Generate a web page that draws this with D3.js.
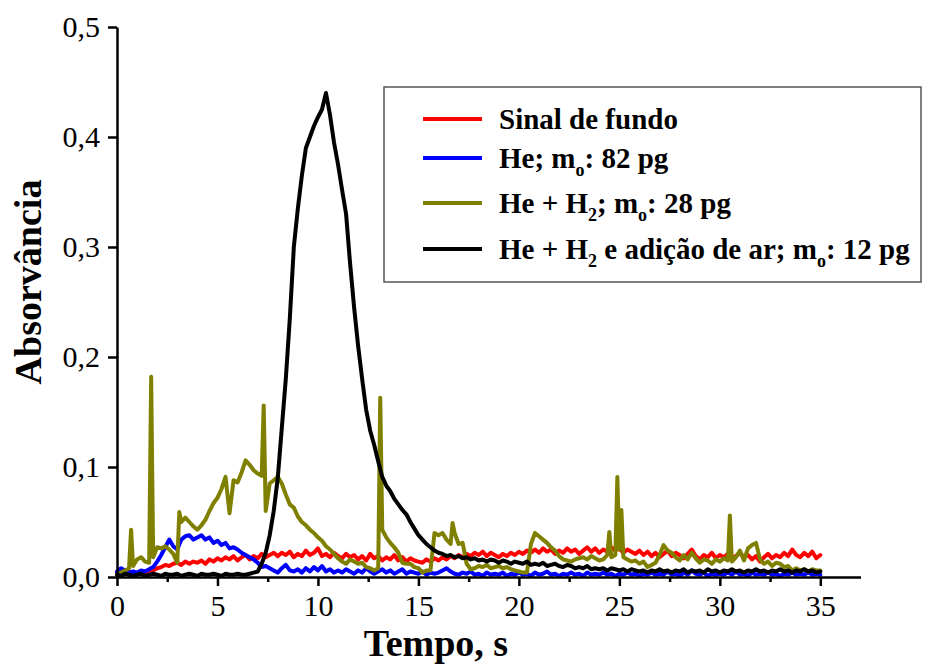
<!DOCTYPE html>
<html>
<head>
<meta charset="utf-8">
<script src="https://cdn.jsdelivr.net/npm/d3@7/dist/d3.min.js"></script>
<style>
  html, body { margin: 0; padding: 0; background: #fff; }
  svg { display: block; }
</style>
</head>
<body>
<div id="chart"></div>
<script>
// ---- DATA ----
// Sampling grid: 0 to 35 s, every 0.2 s
const timeStep = 0.2;
const xTicksMajor = [0, 5, 10, 15, 20, 25, 30, 35];
const xTicksMinor = [2.5, 7.5, 12.5, 17.5, 22.5, 27.5, 32.5];
const yTicks = [0, 0.1, 0.2, 0.3, 0.4, 0.5];

const seriesNames = [
  "Sinal de fundo",
  "He; m_o: 82 pg",
  "He + H_2; m_o: 28 pg",
  "He + H_2 e adição de ar; m_o: 12 pg"
];

const sinalDeFundo = [
  0.004,0.006,0.004,0.005,0.003, 0.004,0.005,0.004,0.006,0.006,
  0.008,0.009,0.011,0.010,0.012, 0.013,0.011,0.014,0.012,0.014,
  0.013,0.015,0.012,0.016,0.014, 0.017,0.015,0.018,0.016,0.019,
  0.015,0.018,0.020,0.016,0.019, 0.017,0.021,0.018,0.020,0.022,
  0.019,0.022,0.020,0.023,0.018, 0.021,0.019,0.024,0.020,0.022,
  0.026,0.019,0.021,0.018,0.022, 0.019,0.017,0.021,0.018,0.020,
  0.016,0.019,0.015,0.021,0.017, 0.019,0.015,0.018,0.016,0.020,
  0.015,0.018,0.014,0.017,0.015, 0.014,0.013,0.016,0.014,0.017,
  0.015,0.018,0.016,0.019,0.017, 0.020,0.018,0.021,0.019,0.022,
  0.020,0.023,0.019,0.022,0.020, 0.018,0.021,0.019,0.022,0.020,
  0.023,0.021,0.024,0.022,0.025, 0.022,0.026,0.023,0.025,0.021,
  0.024,0.022,0.026,0.023,0.025, 0.021,0.024,0.027,0.023,0.026,
  0.022,0.025,0.023,0.027,0.024, 0.026,0.022,0.025,0.023,0.021,
  0.024,0.020,0.023,0.019,0.022, 0.018,0.021,0.024,0.019,0.022,
  0.020,0.017,0.021,0.025,0.019, 0.016,0.020,0.018,0.022,0.017,
  0.020,0.018,0.021,0.017,0.019, 0.022,0.018,0.020,0.016,0.019,
  0.014,0.018,0.021,0.017,0.020, 0.018,0.022,0.019,0.025,0.020,
  0.018,0.022,0.019,0.023,0.017, 0.020
];

const heliumOnly = [
  0.005,0.008,0.006,0.004,0.005, 0.004,0.006,0.005,0.007,0.009,
  0.014,0.020,0.027,0.034,0.028, 0.025,0.034,0.037,0.038,0.034,
  0.036,0.038,0.034,0.036,0.031, 0.033,0.029,0.031,0.026,0.027,
  0.025,0.022,0.020,0.018,0.016, 0.013,0.009,0.010,0.008,0.006,
  0.004,0.008,0.011,0.006,0.005, 0.007,0.004,0.008,0.005,0.009,
  0.006,0.010,0.005,0.007,0.004, 0.006,0.004,0.007,0.005,0.003,
  0.006,0.004,0.008,0.005,0.003, 0.005,0.007,0.004,0.006,0.003,
  0.005,0.007,0.003,0.005,0.004, 0.003,0.005,0.002,0.004,0.003,
  0.004,0.006,0.008,0.005,0.003, 0.002,0.004,0.003,0.005,0.002,
  0.003,0.001,0.004,0.002,0.003, 0.002,0.004,0.001,0.003,0.002,
  0.004,0.002,0.003,0.001,0.004, 0.002,0.003,0.005,0.002,0.003,
  0.001,0.003,0.002,0.004,0.002, 0.003,0.001,0.004,0.002,0.003,
  0.002,0.004,0.002,0.003,0.001, 0.003,0.002,0.004,0.002,0.003,
  0.001,0.003,0.002,0.004,0.002, 0.003,0.002,0.005,0.002,0.003,
  0.001,0.004,0.002,0.006,0.003, 0.002,0.004,0.001,0.003,0.002,
  0.003,0.002,0.004,0.002,0.005, 0.002,0.003,0.001,0.004,0.002,
  0.003,0.002,0.004,0.002,0.003, 0.001,0.003,0.002,0.004,0.002,
  0.003,0.002,0.004,0.002,0.003, 0.002
];

const heliumHydrogen = [
  0.002,0.004,0.006,0.008,0.010, 0.016,0.018,0.014,0.013,0.018,
  0.027,0.026,0.028,0.025,0.021, 0.013,0.050,0.054,0.050,0.046,
  0.043,0.047,0.052,0.060,0.067, 0.072,0.080,0.091,0.058,0.088,
  0.086,0.095,0.106,0.102,0.097, 0.094,0.092,0.060,0.085,0.088,
  0.091,0.085,0.075,0.066,0.063, 0.055,0.050,0.047,0.043,0.040,
  0.036,0.033,0.028,0.025,0.021, 0.017,0.014,0.012,0.016,0.014,
  0.012,0.013,0.009,0.008,0.006, 0.008,0.043,0.036,0.031,0.027,
  0.022,0.013,0.012,0.012,0.009, 0.008,0.004,0.006,0.006,0.040,
  0.038,0.040,0.034,0.030,0.040, 0.030,0.031,0.012,0.007,0.008,
  0.010,0.009,0.011,0.008,0.009, 0.010,0.008,0.009,0.007,0.006,
  0.005,0.004,0.004,0.030,0.040, 0.037,0.034,0.031,0.027,0.024,
  0.019,0.016,0.015,0.014,0.016, 0.017,0.018,0.016,0.019,0.017,
  0.015,0.016,0.020,0.018,0.020, 0.025,0.018,0.016,0.014,0.015,
  0.012,0.014,0.009,0.011,0.013, 0.020,0.029,0.024,0.022,0.018,
  0.015,0.020,0.016,0.022,0.017, 0.013,0.016,0.015,0.012,0.016,
  0.014,0.017,0.015,0.014,0.018, 0.024,0.015,0.026,0.029,0.031,
  0.016,0.012,0.014,0.010,0.013, 0.012,0.009,0.010,0.006,0.008,
  0.006,0.007,0.005,0.007,0.006, 0.006
];
// narrow spikes of the He + H2 trace (between grid samples)
const spikeTimes  = [0.7, 1.7, 3.1, 7.3, 13.1, 16.7, 24.5, 24.9, 25.1, 30.5];
const spikeValues = [0.043, 0.182, 0.059, 0.156, 0.163, 0.049, 0.041, 0.091, 0.061, 0.056];

const heliumHydrogenAir = [
  0.002,0.001,0.003,0.002,0.001, 0.002,0.003,0.001,0.002,0.003,
  0.002,0.001,0.003,0.002,0.002, 0.003,0.001,0.002,0.003,0.002,
  0.001,0.003,0.002,0.002,0.003, 0.002,0.001,0.003,0.002,0.002,
  0.003,0.002,0.002,0.003,0.004, 0.005,0.012,0.022,0.038,0.060,
  0.090,0.135,0.180,0.235,0.300, 0.335,0.365,0.390,0.400,0.410,
  0.418,0.425,0.440,0.420,0.395, 0.375,0.352,0.330,0.285,0.245,
  0.210,0.180,0.152,0.133,0.120, 0.105,0.091,0.083,0.078,0.071,
  0.066,0.061,0.057,0.050,0.044, 0.038,0.034,0.030,0.027,0.024,
  0.022,0.021,0.019,0.020,0.018, 0.019,0.017,0.018,0.016,0.017,
  0.015,0.016,0.014,0.016,0.015, 0.013,0.015,0.014,0.012,0.014,
  0.013,0.012,0.014,0.011,0.012, 0.011,0.013,0.010,0.011,0.012,
  0.010,0.009,0.011,0.010,0.008, 0.009,0.008,0.010,0.007,0.008,
  0.007,0.008,0.006,0.008,0.007, 0.006,0.007,0.005,0.007,0.006,
  0.005,0.006,0.004,0.006,0.005, 0.007,0.005,0.006,0.004,0.006,
  0.005,0.007,0.004,0.006,0.005, 0.006,0.004,0.007,0.005,0.006,
  0.004,0.006,0.005,0.007,0.005, 0.006,0.004,0.006,0.005,0.007,
  0.005,0.006,0.004,0.006,0.005, 0.007,0.005,0.006,0.004,0.006,
  0.005,0.007,0.005,0.006,0.004, 0.005
];

const seriesColors = ["#ff0000", "#0000ff", "#808000", "#000000"];

// ---- build point tables ----
function toPoints(values) {
  return values.map((v, i) => ({ t: +(i * timeStep).toFixed(2), v }));
}
const olivePoints = toPoints(heliumHydrogen)
  .concat(spikeTimes.map((t, i) => ({ t, v: spikeValues[i] })))
  .sort((a, b) => a.t - b.t);

const allSeries = [
  toPoints(sinalDeFundo),
  toPoints(heliumOnly),
  olivePoints,
  toPoints(heliumHydrogenAir)
];

// ---- chart ----
const W = 934, H = 666;
const FONT = "Liberation Serif";
const svg = d3.select("#chart").append("svg")
  .attr("width", W).attr("height", H);

const x = d3.scaleLinear().domain([0, 37]).range([117, 860.5]);
const y = d3.scaleLinear().domain([0, 0.5]).range([577, 27]);

// series lines
const line = d3.line().x(d => x(d.t)).y(d => y(d.v));
svg.append("g").selectAll("path")
  .data(allSeries)
  .join("path")
  .attr("d", line)
  .attr("fill", "none")
  .attr("stroke", (d, i) => seriesColors[i])
  .attr("stroke-width", 4)
  .attr("stroke-linejoin", "round")
  .attr("stroke-linecap", "round");

// x axis
const gx = svg.append("g").attr("transform", `translate(0,${y(0)})`)
  .call(d3.axisBottom(x).tickValues(xTicksMajor).tickSize(9).tickSizeOuter(0).tickPadding(9));
gx.attr("font-family", FONT).attr("font-size", 30);
gx.select(".domain").attr("stroke", "#000").attr("stroke-width", 2.5);
gx.selectAll(".tick line").attr("stroke", "#000").attr("stroke-width", 2.5);
gx.selectAll(".tick text").attr("font-family", FONT).attr("font-size", 30).attr("fill", "#000");

const gxm = svg.append("g").attr("transform", `translate(0,${y(0)})`)
  .call(d3.axisBottom(x).tickValues(xTicksMinor).tickSize(5).tickFormat(""));
gxm.select(".domain").remove();
gxm.selectAll(".tick line").attr("stroke", "#000").attr("stroke-width", 2.5);

// y axis
const gy = svg.append("g").attr("transform", `translate(${x(0)},0)`)
  .call(d3.axisLeft(y).tickValues(yTicks).tickSize(9).tickSizeOuter(0).tickPadding(8)
    .tickFormat(d => d3.format(".1f")(d).replace(".", ",")));
gy.attr("font-family", FONT).attr("font-size", 30);
gy.select(".domain").attr("stroke", "#000").attr("stroke-width", 2.5);
gy.selectAll(".tick line").attr("stroke", "#000").attr("stroke-width", 2.5);
gy.selectAll(".tick text").attr("font-family", FONT).attr("font-size", 30).attr("fill", "#000");

// axis titles
svg.append("text")
  .attr("x", 436).attr("y", 656)
  .attr("text-anchor", "middle")
  .attr("font-family", FONT).attr("font-weight", "bold").attr("font-size", 38)
  .text("Tempo, s");

svg.append("text")
  .attr("transform", "translate(41,282) rotate(-90)")
  .attr("text-anchor", "middle")
  .attr("font-family", FONT).attr("font-weight", "bold").attr("font-size", 38)
  .text("Absorvância");

// legend
const legend = svg.append("g");
legend.append("rect")
  .attr("x", 384).attr("y", 87).attr("width", 537).attr("height", 195)
  .attr("fill", "#fff").attr("stroke", "#555").attr("stroke-width", 1.5);

const rowY = [119, 158, 203, 249];
seriesNames.forEach((name, i) => {
  legend.append("line")
    .attr("x1", 423).attr("x2", 482)
    .attr("y1", rowY[i]).attr("y2", rowY[i])
    .attr("stroke", seriesColors[i]).attr("stroke-width", 4);
  const txt = legend.append("text")
    .attr("x", 499).attr("y", rowY[i] + 10)
    .attr("font-family", FONT).attr("font-weight", "bold").attr("font-size", 29)
    .attr("fill", "#000");
  // split on "_x" for subscripts
  const parts = name.split(/_(\w)/);
  parts.forEach((p, k) => {
    if (k % 2 === 1) {
      txt.append("tspan").attr("font-size", 18).attr("dy", 8).text(p);
    } else if (p.length) {
      const ts = txt.append("tspan").text(p);
      if (k > 0) ts.attr("dy", -8);
    }
  });
});
</script>
</body>
</html>
